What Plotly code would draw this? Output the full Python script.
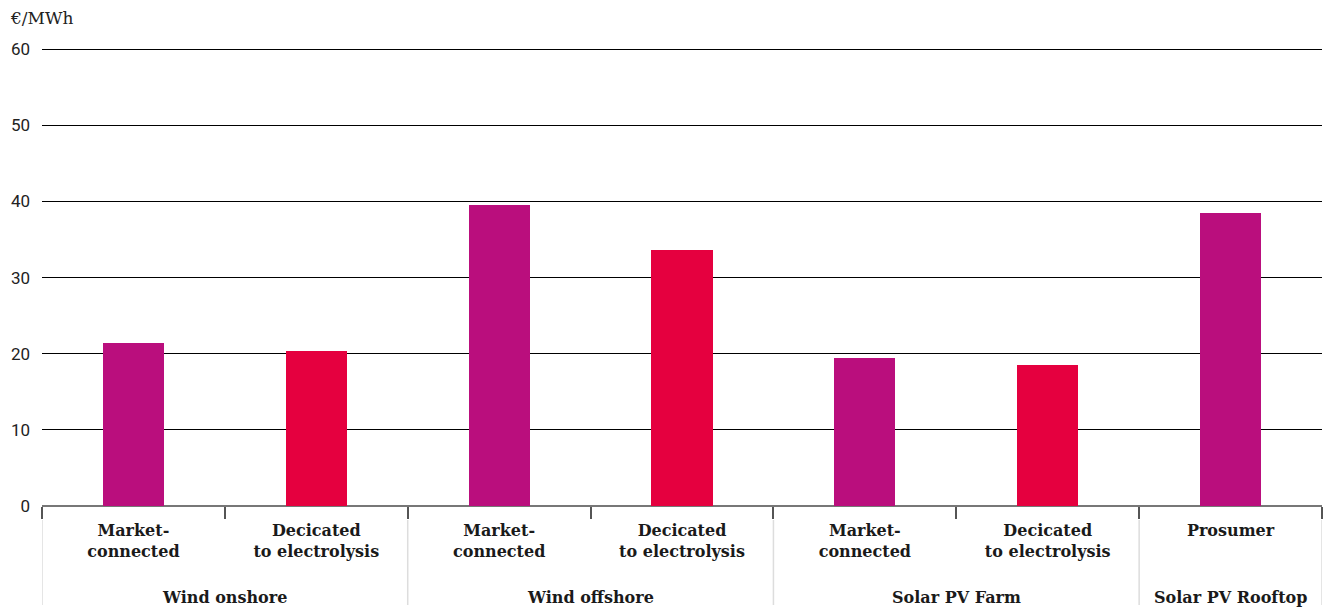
import plotly.graph_objects as go

groups = ["Wind onshore", "Wind offshore", "Solar PV Farm", "Solar PV Rooftop"]
group_members = [2, 2, 2, 1]
sub_labels = ["Market-<br>connected", "Decicated<br>to electrolysis",
              "Market-<br>connected", "Decicated<br>to electrolysis",
              "Market-<br>connected", "Decicated<br>to electrolysis",
              "Prosumer"]
bar_kind = ["market", "dedicated", "market", "dedicated", "market", "dedicated", "market"]
values = [21.4, 20.35, 39.55, 33.6, 19.4, 18.5, 38.5]
y_ticks = [0, 10, 20, 30, 40, 50, 60]

colors_map = {"market": "#BA0E7D", "dedicated": "#E5003F"}
xs = list(range(len(values)))

PH = 458  # plot height in px
fig = go.Figure()
fig.add_trace(go.Bar(
    x=xs, y=values, width=0.335,
    marker=dict(color=[colors_map[k] for k in bar_kind], line=dict(width=0)),
    hoverinfo="y", showlegend=False,
))

label_font = dict(family="DejaVu Serif", size=16, color="#1a1a1a")

fig.update_layout(
    width=1324, height=612,
    margin=dict(l=42, r=2, t=48, b=106, autoexpand=False),
    paper_bgcolor="white", plot_bgcolor="white",
    bargap=0,
    xaxis=dict(
        range=[-0.5, len(values) - 0.5],
        tickvals=xs, ticktext=["<b>%s</b>" % s for s in sub_labels],
        ticks="", showgrid=False, zeroline=False,
        showline=False, automargin=False,
        tickfont=label_font,
        ticklabelstandoff=13,
        minor=dict(tick0=-0.5, dtick=1, ticks="outside", ticklen=12,
                   tickcolor="#555555", tickwidth=1.5, showgrid=False),
    ),
    yaxis=dict(
        range=[0, 60.15], tickvals=y_ticks,
        showgrid=True, gridcolor="#000000", gridwidth=1,
        zeroline=True, zerolinecolor="#777777", zerolinewidth=2,
        showline=False, ticks="", automargin=False,
        tickfont=dict(family="Roboto", size=17, color="#222222"),
        ticklabelstandoff=11,
    ),
)

# group dividers
bounds = [-0.5]
for n in group_members:
    bounds.append(bounds[-1] + n)
for b in bounds:
    fig.add_shape(type="line", xref="x", yref="paper", x0=b, x1=b,
                  y0=-14 / PH, y1=-99 / PH,
                  line=dict(color="#DDDDDD", width=1.5))

# group labels
for i, g in enumerate(groups):
    center = (bounds[i] + bounds[i + 1]) / 2
    fig.add_annotation(x=center, xref="x", y=-91 / PH, yref="paper",
                       text="<b>%s</b>" % g, showarrow=False,
                       font=label_font, yanchor="middle")

fig.add_annotation(x=-34 / 1280, xref="paper", xanchor="left",
                   y=1 + 30 / PH, yref="paper", yanchor="middle",
                   text="€/MWh", showarrow=False,
                   font=dict(family="DejaVu Serif", size=17, color="#222222"))

fig.write_html("out.html", config={"displayModeBar": False},
               post_script="document.body.style.margin='0';document.body.style.overflow='hidden';")
